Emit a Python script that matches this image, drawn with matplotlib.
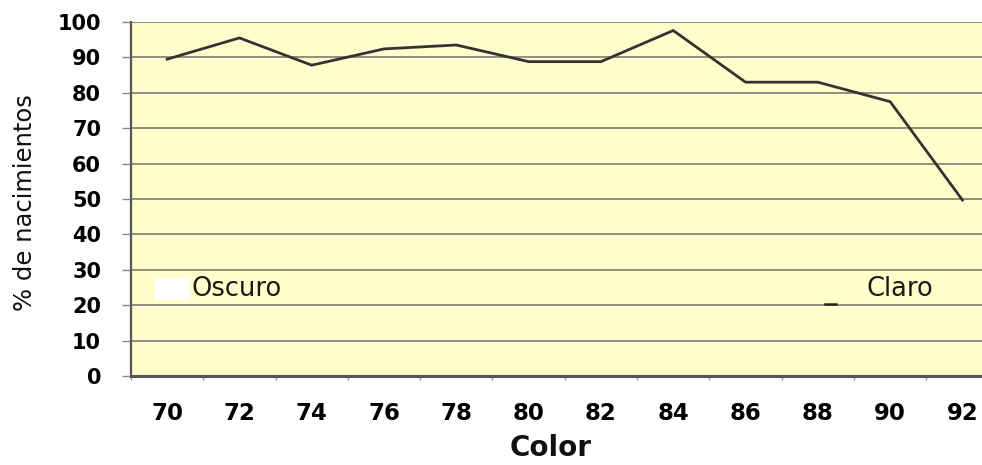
import matplotlib.pyplot as plt
from matplotlib.patches import Rectangle

colores = ['70', '72', '74', '76', '78', '80', '82', '84', '86', '88', '90', '92']
nacimientos = [89.5, 95.5, 87.8, 92.4, 93.5, 88.8, 88.8, 97.6, 83.0, 83.0, 77.5, 49.7]
yticks = [0, 10, 20, 30, 40, 50, 60, 70, 80, 90, 100]

fig = plt.figure(figsize=(9.82, 4.65), dpi=100)
# plot area runs past the right edge of the figure
ax = fig.add_axes([0.1334, 0.1914, 0.8835, 0.7613])
ax.set_facecolor('#FFFFCC')

x = list(range(len(colores)))
ax.plot(x, nacimientos, color='#333333', linewidth=2.0, zorder=3)

ax.set_xlim(-0.5, len(colores) - 0.5)
ax.set_ylim(0, 100)

# horizontal grid lines every 10
for v in yticks[1:]:
    ax.axhline(v, color='#7d7d70', linewidth=1.2, zorder=1)

ax.set_yticks(yticks)
ax.set_yticklabels([str(v) for v in yticks], fontsize=15, fontweight='bold')
ax.tick_params(axis='y', direction='out', length=6.5, width=1, color='#888888', pad=15)

ax.set_xticks(x)
ax.set_xticklabels(colores, fontsize=16.5, fontweight='bold')
ax.set_xticks([i - 0.5 for i in range(len(colores) + 1)], minor=True)
ax.tick_params(axis='x', which='major', length=0, pad=19)
ax.tick_params(axis='x', which='minor', direction='out', length=3, width=1, color='#999999')

for side in ['top', 'right']:
    ax.spines[side].set_visible(False)
ax.spines['left'].set_color('#555555')
ax.spines['left'].set_linewidth(1.6)
ax.spines['bottom'].set_color('#555555')
ax.spines['bottom'].set_linewidth(2.2)

# white patch beside the "Oscuro" note
ax.add_patch(Rectangle((-0.17, 21.5), 0.48, 6.2, facecolor='white', edgecolor='none', zorder=2))
ax.text(0.34, 24.7, 'Oscuro', fontsize=18.5, color='#1a1a1a', ha='left', va='center', zorder=4)
ax.text(9.67, 24.7, 'Claro', fontsize=18.5, color='#1a1a1a', ha='left', va='center', zorder=4)
ax.plot([9.10, 9.25], [20.4, 20.4], color='#222222', linewidth=1.8, zorder=2)

fig.text(0.0255, 0.5645, '% de nacimientos', rotation=90, ha='center', va='center',
         fontsize=17.5, color='#111111')
fig.text(0.561, 0.0366, 'Color', ha='center', va='center', fontsize=20, fontweight='bold',
         color='#111111')

fig.savefig('out.png', dpi=100)
